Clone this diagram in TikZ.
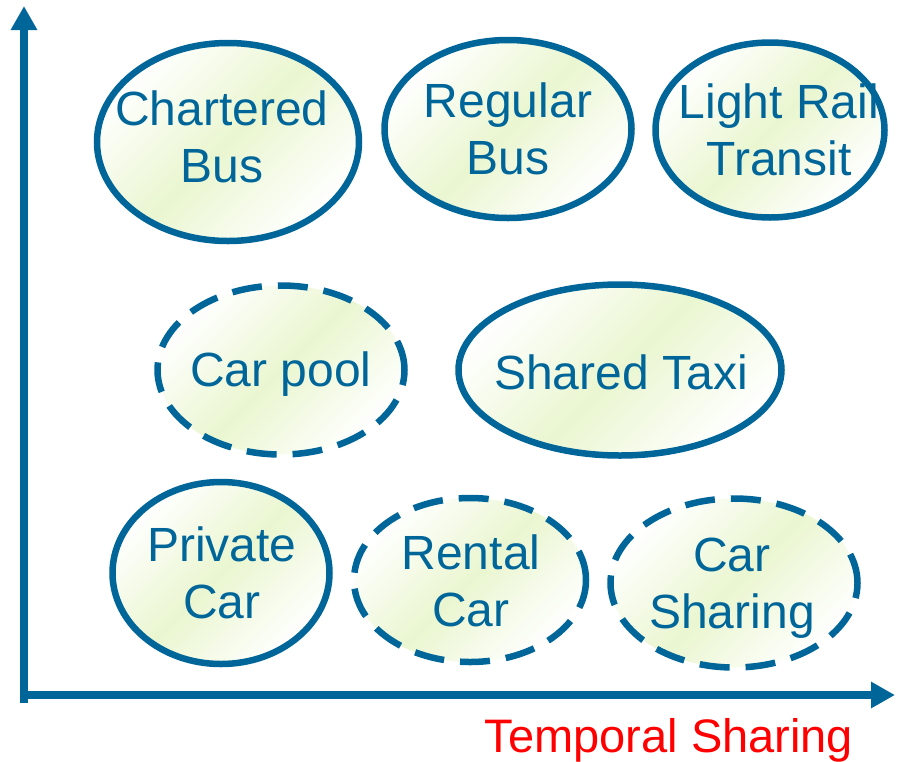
\documentclass[tikz,border=0pt]{standalone}
\usepackage{fontspec}
\setmainfont{Liberation Sans}
\usetikzlibrary{shapes.geometric,arrows.meta}
\definecolor{axisblue}{RGB}{0,102,153}
\definecolor{softgreen}{RGB}{234,246,208}
\definecolor{tred}{RGB}{255,0,0}
\tikzset{
  oval/.style={ellipse, inner sep=0pt, line width=6.5pt, draw=axisblue,
    left color=white, right color=white, middle color=softgreen, shading angle=45},
  dashoval/.style={oval, dash pattern=on 30pt off 16pt},
  ovaltext/.style={text=axisblue, align=center, inner sep=0pt, font=\fontsize{48}{57}\selectfont},
  axisline/.style={line width=8pt, draw=axisblue, -{Triangle[length=24pt,width=25pt]}}
}
\begin{document}
\begin{tikzpicture}[x=1pt,y=-1pt]
\useasboundingbox (0,0) rectangle (907,761);
\coordinate (ytop) at (24,6);
\coordinate (xend) at (895,695);
\coordinate (ybot) at (24,703);
\coordinate (xstart) at (20,695);
\draw[axisline] (ybot) -- (ytop);
\draw[axisline] (xstart) -- (xend);
\node[oval, minimum width=262pt, minimum height=198pt] (cb) at (228,142) {};
\node[oval, minimum width=247pt, minimum height=178pt] (rb) at (508,129) {};
\node[oval, minimum width=229pt, minimum height=175pt] (lrt) at (770,130) {};
\node[dashoval, minimum width=247pt, minimum height=169pt] (cp) at (281,370) {};
\node[oval, minimum width=323pt, minimum height=171pt] (st) at (620,370) {};
\node[oval, minimum width=217pt, minimum height=182pt] (pc) at (221,573) {};
\node[dashoval, minimum width=232pt, minimum height=164pt] (rc) at (470,580) {};
\node[dashoval, minimum width=247pt, minimum height=169pt] (cs) at (734,583) {};
\node[ovaltext] (cbt) at (222,137) {Chartered\\Bus};
\node[ovaltext] (rbt) at (508,129) {Regular\\Bus};
\node[ovaltext] (lrtt) at (779,130) {Light Rail\\Transit};
\node[ovaltext] (cpt) at (281,374) {Car pool};
\node[ovaltext] (stt) at (621,372) {Shared Taxi};
\node[ovaltext] (pct) at (222,573) {Private\\Car};
\node[ovaltext] (rct) at (471,581) {Rental\\Car};
\node[ovaltext] (cst) at (732,588) {Car\\Sharing};
\node[text=tred, font=\fontsize{47}{57}\selectfont, anchor=base] (lbl) at (669,752) {Temporal Sharing};
\end{tikzpicture}
\end{document}
